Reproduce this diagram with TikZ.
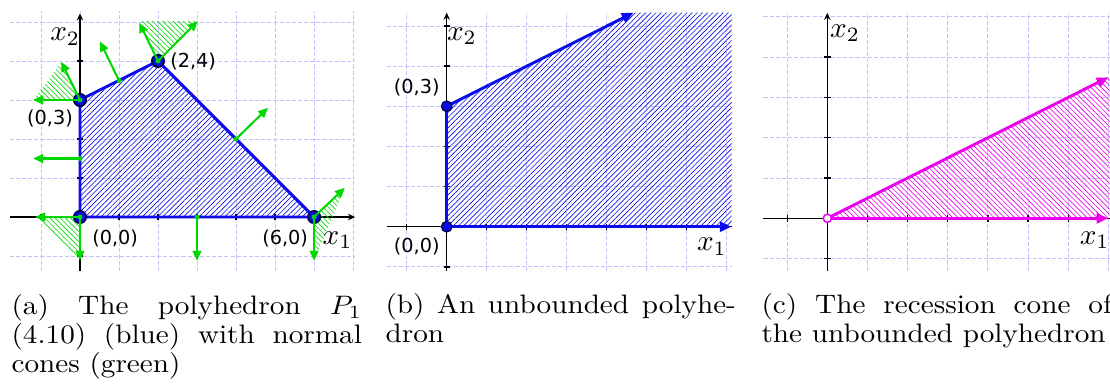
\documentclass[tikz,border=0pt]{standalone}
\usepackage{fontspec}
\newfontfamily\ptfont{DejaVu Sans}
\usetikzlibrary{arrows.meta,patterns.meta}

\definecolor{gridblue}{RGB}{195,195,255}
\definecolor{polyblue}{RGB}{10,10,235}
\definecolor{conegreen}{RGB}{0,215,0}
\definecolor{vertexring}{RGB}{0,0,80}
\definecolor{recmag}{RGB}{235,0,235}

\begin{document}
\begin{tikzpicture}[
    x=0.3425pt, y=0.3425pt,
    gridline/.style={gridblue, line width=0.3pt, dash pattern=on 1.4pt off 0.7pt},
    axis/.style={line width=0.45pt, -{Stealth[length=2.4pt,width=2.2pt]}},
    tick/.style={line width=0.45pt},
    edge/.style={polyblue, line width=1pt},
    ray/.style={polyblue, line width=1pt, -{Triangle[length=4pt,width=3.4pt]}},
    recray/.style={recmag, line width=1pt, -{Triangle[length=4pt,width=3.4pt]}},
    normal/.style={conegreen, line width=0.7pt, -{Triangle[length=3.4pt,width=3pt]}},
    hatch/.style={pattern={Lines[angle=45,distance=1.25pt,line width=0.22pt]}, pattern color=polyblue},
    cone/.style={pattern={Lines[angle=-45,distance=1.25pt,line width=0.22pt]}, pattern color=conegreen},
    rechatch/.style={pattern={Lines[angle=-45,distance=1.25pt,line width=0.22pt]}, pattern color=recmag},
    vertex/.style={circle, fill=polyblue, draw=vertexring, line width=0.6pt, inner sep=0pt, minimum size=4.2pt},
    apex/.style={circle, fill=white, draw=recmag, line width=0.5pt, inner sep=0pt, minimum size=2.8pt},
    foot/.style={circle, fill=conegreen, inner sep=0pt, minimum size=1.7pt},
    coord/.style={font=\ptfont\fontsize{6.6}{7}\selectfont, inner sep=0pt},
    axlabel/.style={font=\fontsize{10}{10}\selectfont, inner sep=0pt},
    caption/.style={anchor=north west, inner sep=0pt, text width=120pt, align=justify,
                    yscale=0.915, transform shape, font=\fontsize{10}{10.8}\selectfont}
  ]
  \useasboundingbox (0,0) rectangle (1110,390);

  % (a) polyhedron P1 with normal cones
  \begin{scope}[shift={(80,173)}, x=13.36pt, y=13.36pt]
    \foreach \gx in {-1,...,7} \draw[gridline] (\gx,-1.38) -- (\gx,5.27);
    \foreach \gy in {-1,...,5} \draw[gridline] (-1.8,\gy) -- (7.05,\gy);
    \draw[axis] (-1.8,0) -- (7.05,0);
    \draw[axis] (0,-1.38) -- (0,5.22);
    \foreach \gx in {-1,1,2,...,6} \draw[tick] (\gx,-0.08) -- (\gx,0.08);
    \foreach \gy in {-1,1,2,...,4} \draw[tick] (-0.08,\gy) -- (0.08,\gy);

    \coordinate (v00) at (0,0);
    \coordinate (v60) at (6,0);
    \coordinate (v24) at (2,4);
    \coordinate (v03) at (0,3);
    \fill[hatch] (v00) -- (v60) -- (v24) -- (v03) -- cycle;

    % normal cones at the vertices
    \fill[cone] (v00) -- (-1.15,0) -- (0,-1.12) -- cycle;
    \fill[cone] (v03) -- (-1.2,3) -- (-0.47,3.97) -- cycle;
    \fill[cone] (v24) -- (1.5,5.03) -- (3.03,5.03) -- cycle;
    \fill[cone] (v60) -- (6.79,0.75) -- (6,-1.12) -- cycle;

    \draw[edge] (v00) -- (v60) -- (v24) -- (v03) -- cycle;
    \node[vertex] (p00) at (v00) {};
    \node[vertex] (p60) at (v60) {};
    \node[vertex] (p24) at (v24) {};
    \node[vertex] (p03) at (v03) {};

    % normal vectors
    \coordinate (m01) at (0,1.5);
    \coordinate (m13) at (1,3.5);
    \coordinate (m42) at (4,2);
    \coordinate (m30) at (3,0);
    \coordinate (n00l) at (-1.15,0);
    \coordinate (n00d) at (0,-1.12);
    \coordinate (n03l) at (-1.2,3);
    \coordinate (n03u) at (-0.48,3.98);
    \coordinate (n01l) at (-1.2,1.5);
    \coordinate (n13u) at (0.51,4.5);
    \coordinate (n24l) at (1.52,4.98);
    \coordinate (n24r) at (3.02,5.02);
    \coordinate (n42r) at (4.82,2.8);
    \coordinate (n30d) at (3,-1.12);
    \coordinate (n60r) at (6.79,0.75);
    \coordinate (n60d) at (6,-1.12);
    \draw[normal] (v00) -- (n00l);
    \draw[normal] (v00) -- (n00d);
    \draw[normal] (v03) -- (n03l);
    \draw[normal] (v03) -- (n03u);
    \draw[normal] (m01) -- (n01l);
    \draw[normal] (m13) -- (n13u);
    \draw[normal] (v24) -- (n24l);
    \draw[normal] (v24) -- (n24r);
    \draw[normal] (m42) -- (n42r);
    \draw[normal] (m30) -- (n30d);
    \draw[normal] (v60) -- (n60r);
    \draw[normal] (v60) -- (n60d);
    \foreach \m in {v00,v03,v24,v60,m01,m13,m42,m30} \node[foot] at (\m) {};

    \node[coord] (l24) at (2.9,3.98) {(2,4)};
    \node[coord] (l03) at (-0.77,2.53) {(0,3)};
    \node[coord] (l00) at (0.9,-0.55) {(0,0)};
    \node[coord] (l60) at (5.26,-0.55) {(6,0)};
    \node[axlabel] (ax1) at (6.6,-0.59) {$x_1$};
    \node[axlabel] (ax2) at (-0.38,4.62) {$x_2$};
  \end{scope}

  % (b) unbounded polyhedron
  \begin{scope}[shift={(446.7,163.3)}, x=13.7pt, y=13.75pt]
    \foreach \gx in {-1,...,7} \draw[gridline] (\gx,-1.1) -- (\gx,5.33);
    \foreach \gy in {-1,...,5} \draw[gridline] (-1.5,\gy) -- (7.12,\gy);
    \draw[tick] (-1.5,0) -- (7.12,0);
    \draw[axis] (0,-1.1) -- (0,5.33);
    \foreach \gx in {-1,1,2,...,6} \draw[tick] (\gx,-0.08) -- (\gx,0.08);
    \foreach \gy in {-1,1,2,...,5} \draw[tick] (-0.08,\gy) -- (0.08,\gy);

    \coordinate (w00) at (0,0);
    \coordinate (w03) at (0,3);
    \coordinate (wr1) at (4.67,5.33);
    \coordinate (wr2) at (7.12,0);
    \fill[hatch] (w00) -- (wr2) -- (7.12,5.33) -- (wr1) -- (w03) -- cycle;
    \draw[edge] (w00) -- (w03);
    \draw[ray] (w03) -- (wr1);
    \draw[ray] (w00) -- (wr2);
    \node[vertex, minimum size=3.6pt, line width=0.45pt] (q00) at (w00) {};
    \node[vertex, minimum size=3.6pt, line width=0.45pt] (q03) at (w03) {};

    \node[coord] (k03) at (-0.75,3.46) {(0,3)};
    \node[coord] (k00) at (-0.75,-0.5) {(0,0)};
    \node[axlabel] (bx1) at (6.63,-0.5) {$x_1$};
    \node[axlabel] (bx2) at (0.38,4.75) {$x_2$};
  \end{scope}

  % (c) recession cone
  \begin{scope}[shift={(827.3,171.7)}, x=13.75pt, y=13.8pt]
    \foreach \gx in {-1,...,7} \draw[gridline] (\gx,-1.3) -- (\gx,5.1);
    \foreach \gy in {-1,...,5} \draw[gridline] (-1.59,\gy) -- (7.03,\gy);
    \draw[tick] (-1.59,0) -- (7.03,0);
    \draw[axis] (0,-1.3) -- (0,5.1);
    \foreach \gx in {-1,1,2,...,6} \draw[tick] (\gx,-0.08) -- (\gx,0.08);
    \foreach \gy in {-1,1,2,...,4} \draw[tick] (-0.08,\gy) -- (0.08,\gy);

    \coordinate (c00) at (0,0);
    \coordinate (cr1) at (7.0,3.5);
    \coordinate (cr2) at (7.0,0);
    \fill[rechatch] (c00) -- (7.03,0) -- (7.03,3.52) -- cycle;
    \draw[recray] (c00) -- (cr1);
    \draw[recray] (c00) -- (cr2);
    \node[apex] (a00) at (c00) {};

    \node[axlabel] (cx1) at (6.66,-0.54) {$x_1$};
    \node[axlabel] (cx2) at (0.44,4.6) {$x_2$};
  \end{scope}

  % captions
  \path (11,96) node[caption] (capa) {(a) The polyhedron $P_1$\linebreak (4.10) (blue) with normal\linebreak cones (green)};
  \path (385,97) node[caption] (capb) {(b) An unbounded polyhe\-dron};
  \path (761,97) node[caption] (capc) {(c) The recession cone of the unbounded polyhedron};
\end{tikzpicture}
\end{document}
